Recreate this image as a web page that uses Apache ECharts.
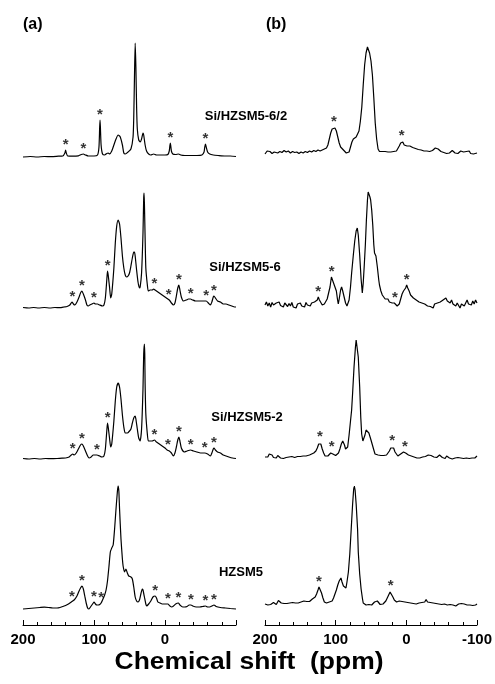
<!DOCTYPE html>
<html>
<head>
<meta charset="utf-8">
<script src="https://cdn.jsdelivr.net/npm/echarts@6/dist/echarts.min.js"></script>
<style>
  html, body { margin: 0; padding: 0; background: #fff; }
  #chart { width: 495px; height: 684px; }
</style>
</head>
<body>
<div id="chart"></div>
<script>
// spectra: [chemical shift (ppm), intensity]
const specA1 = [[200,0],[190,0.5],[180,0],[170,0.5],[160,0.3],[150,0.8],[144,1],[141,4],[140,7],[139,4],[137,1],[130,0.8],[122,1.2],[118,2.5],[115,3],[112,2],[108,1],[100,1],[95,2],[93,10],[92,30],[91.5,37],[91,30],[90,12],[88,3],[85,2],[82,3.5],[80,4],[78,3],[75,6],[72,12],[69,18],[66,22],[63,20],[60,12],[58,4],[56,3],[52,5],[48,8],[45,20],[44,40],[43,80],[42,114],[41,90],[40,50],[39,28],[37,17],[35,15],[33,18],[31,24],[30,22],[28,12],[26,6],[23,3],[20,2],[16,3],[12,2],[8,2],[4,2],[0,2],[-4,2.5],[-6,6],[-7,12],[-7.5,14],[-8,12],[-9,6],[-11,3],[-15,2.5],[-19,3],[-22,2],[-28,1.5],[-35,1.5],[-45,1.5],[-52,2],[-55,5],[-56,10],[-57,13],[-58,10],[-60,5],[-63,3],[-68,2],[-75,1.5],[-85,1],[-92,1],[-100,0.5]];
const specA2 = [[200,0.5],[192,0],[185,0.5],[178,0],[170,0.5],[162,0],[155,0.5],[148,0.3],[142,1],[138,1.5],[134,3],[131,6],[129,4],[127,3],[124,6],[121,11],[119,15],[117,17],[115,14],[112,8],[110,3],[108,2],[106,3],[103,4],[100,5],[98,4],[95,4],[92,3],[88,2],[86,3],[84,10],[82,28],[81,37],[80,33],[78,20],[76.5,10],[75,14],[72,40],[70,65],[68,82],[66,88],[64,84],[62,70],[60,52],[58,40],[56,33],[54,31],[52,32],[50,35],[48,42],[46,50],[44,56],[43,56],[42,52],[40,38],[38,26],[36,20],[35,21],[33,35],[31,75],[30,110],[29.5,115],[29,105],[28,70],[27,40],[25,24],[23.5,17],[21,18],[18,18],[16,19],[14,18],[10,16],[6,14],[2,12],[-2,10],[-6,8],[-9,5],[-12,3],[-14,5],[-16,12],[-18,20],[-19.5,23],[-21,18],[-23,11],[-26,7],[-30,8],[-33,9],[-36,9],[-39,8],[-43,7],[-49,7],[-54,7],[-58,7],[-61,5],[-64,3],[-66,6],[-68,11],[-69,12],[-71,10],[-74,7],[-78,6],[-82,4],[-86,4],[-90,3],[-94,2],[-98,1],[-100,1]];
const specA3 = [[200,0.5],[192,0],[184,0.5],[176,0],[168,0.5],[160,0.3],[152,0.5],[145,0.8],[140,1],[135,2],[132,4],[130,5],[128,4],[125,6],[122,10],[119,14],[117,15],[115,13],[112,8],[109,3],[107,1],[104,2],[101,4],[99,4],[96,4],[92,3],[89,2],[86,3],[84,10],[82,28],[81,36],[80,32],[78,20],[76.5,12],[75,15],[72,38],[70,58],[68,72],[66,76],[64,72],[62,60],[60,44],[58,32],[56,26],[53,26],[50,28],[48,30],[46,36],[44,41],[42,43],[41,40],[39,30],[37,21],[35,18],[33,30],[31,70],[30,105],[29,115],[28.5,105],[28,75],[27,45],[25,26],[23.5,18],[21,18],[18,18],[15,19],[12,17],[8,15],[4,13],[0,11],[-3,9],[-6,8],[-9,6],[-11.7,3],[-14,6],[-16,12],[-18,19],[-19.7,22],[-21,18],[-23,11],[-27,7],[-31,8],[-36,9],[-40,8],[-45,7],[-50,6],[-56,6],[-60,5],[-64,3],[-66,6],[-68,10],[-69,11],[-71,9],[-74,7],[-78,6],[-82,4],[-86,3],[-90,2],[-95,1],[-100,0.5]];
const specA4 = [[200,0],[192,0.5],[184,1],[176,1.5],[170,1.8],[164,1.5],[158,1],[152,1],[148,1.5],[144,2.5],[140,3.5],[136,5],[132,7],[128,9],[124,13],[121,18],[119,21],[117,23],[115,20],[113,13],[111,6],[109,1],[107,0],[105,2],[103,4],[101,6],[100,7],[98,5],[96,4],[94,4],[92,4.5],[90,6],[88,9],[85,14],[83,19],[81,28],[79,42],[77,57],[75,61],[73,64],[71,80],[69,100],[67,118],[66,123],[65,118],[64,100],[62,70],[60,50],[59,43],[57,37],[55,40],[53,36],[51,33],[48,32],[46,30],[44,22],[42,12],[40,8],[38,7],[36,9],[34,15],[32,20],[31,19],[29,12],[27,5],[25.8,3],[23,5],[20,8],[17,12],[14,13],[12,11],[10,7],[7,6],[4,5],[0,5],[-4,5],[-7,3],[-9.4,2],[-12,3],[-15,5],[-18.8,6],[-21,4],[-25,2],[-28,2],[-31,2.5],[-34,4],[-36.6,4],[-39,3],[-44,2],[-49,2],[-53,2.5],[-57,3],[-60,2],[-63,2],[-66,3],[-69,4],[-72,2.5],[-78,1.5],[-85,1],[-92,0.5],[-100,0]];

const specB1 = [[200,-1],[197,2],[195,0],[193,1.5],[190,-0.5],[187,1],[185,2],[182,0],[179,1.5],[176,0.5],[173,2.5],[170,1],[167,2],[164,0],[161,1.5],[158,0.5],[155,1],[152,-0.5],[149,1],[146,0],[143,1.5],[140,0.5],[137,2],[134,1],[131,2.5],[128,1.5],[125,3],[122,2],[119,3],[116,4],[113,5],[111,8],[109,14],[107,20],[105,24],[103,26],[101,25],[99,22],[97,16],[95,10],[93,6],[91,4],[89,3],[87,1.5],[85,0],[83,-1],[81,1],[79,6],[77,11],[75,14],[73,15],[71,16],[69,17],[67,22],[65,32],[63,46],[61,68],[59,88],[57,100],[55,106],[54,105],[52,100],[50,92],[48,78],[46,55],[44,30],[42,14],[40,4],[38,1.5],[36,0],[34,1.5],[32,0.5],[30,1.5],[28,0],[26,1],[24,-0.5],[22,1],[20,0.5],[18,1.5],[16,1],[14,2],[12,4],[10,7],[8,10],[6.5,12],[5,11],[3,8],[1,9],[-1,7],[-3,6.5],[-5,7],[-7,5],[-9,5.5],[-11,4],[-13,4.5],[-15,3],[-17,3.5],[-19,2],[-21,3],[-23,1.5],[-25,2],[-27,1],[-29,2],[-31,0.5],[-33,1.5],[-35,1],[-37,2.5],[-39,3],[-41,5],[-43,6],[-45,4],[-47,3],[-49,1.5],[-51,2],[-53,0.5],[-55,1],[-57,-0.5],[-59,1.5],[-61,0],[-63,1],[-65,2.5],[-67,1],[-69,0],[-71,1.5],[-73,-0.5],[-75,1],[-77,2],[-79,0],[-81,1],[-83,-1],[-85,1.5],[-87,0],[-89,2],[-91,-0.5],[-93,1.5],[-95,-1],[-97,1],[-100,0]];
const specB2 = [[200,0],[198,3],[196,-1],[194,2],[192,-2],[190,2.5],[188,0],[186,-1],[184,2],[182,0.5],[180,3],[178,-0.5],[176,1],[174,-2],[172,2],[170,0],[168,-1.5],[166,1.5],[164,-1],[162,2.5],[160,-2],[158,0],[156,-3],[154,1],[152,-1],[150,2],[148,-1],[146,1],[144,-2],[142,2.5],[140,0],[138,1],[136,-1],[134,2],[132,0],[130,3],[128,2],[126,5],[124.6,8],[123,5],[121,3],[119,0],[117.5,-1],[116,1],[114,3],[112,6],[110,12],[108,18],[106,28],[105,26],[103,22],[101,20],[99,14],[97.5,6],[96.3,1],[95,6],[93,15],[91.6,18],[90,14],[88,8],[86,2],[84,-1],[83,-2],[81,5],[79,18],[77.4,32],[75,50],[73,64],[71,74],[69.4,77],[68,70],[66,50],[64,26],[62.3,12],[61,22],[59.5,40],[58,60],[56.5,85],[55,105],[54,113],[53,112],[51.5,108],[50.5,105],[49,95],[47.5,80],[46,60],[45,52],[44,50],[43,49],[41,38],[39,25],[38,20],[36,14],[34,10],[32,8],[30,6],[28,5],[26,6],[24,3],[22,4],[20,2],[18.5,4],[17,2],[15,1],[13,-1],[11.4,-1.5],[10,1],[8,6],[6,11],[4,14],[2,16],[1,17],[-0.5,20],[-2,17],[-4,14],[-6,10],[-8,8],[-10,7],[-12,6],[-14,5],[-16,6],[-18,3],[-20,4],[-22,2],[-24,3],[-26,1],[-28,2],[-30,-1],[-32,1],[-34,-1.5],[-36,0],[-38,-3],[-40,1],[-42,-1],[-44,2],[-46,0],[-48,3],[-50,2],[-52,5],[-54,3],[-56,7],[-58,4],[-60,6],[-62,2],[-64,5],[-66,1],[-68,3],[-70,-1],[-72,2],[-74,0],[-76,-3],[-78,1],[-80,3],[-82,-1],[-84,2],[-86,5],[-88,1],[-90,3],[-92,0],[-94,4],[-96,1],[-98,5],[-100,2]];
const specB3 = [[200,0],[198,2],[196,0],[194,3],[192,1],[190,2],[188,-0.5],[186,1],[184,-1],[182,1.5],[180,0],[178,-1],[176,0.5],[174,-1.5],[172,0],[170,-0.5],[168,1],[166,0],[164,1.5],[162,0.5],[160,1],[158,-0.5],[156,1.5],[154,0.5],[152,2],[150,0.5],[148,1.5],[146,1],[144,2],[142,1],[140,3],[137,2],[134,3],[131,4],[128,6],[126,9],[124,13],[122.4,15],[121,13],[119,8],[117,4],[115,1],[113,0.5],[111,1],[109,2],[107,4],[105.7,5],[104,3],[102,2],[100,1.5],[98,2],[96,4],[94,8],[92,13],[90,16],[89,17],[87.5,12],[86,8],[84.5,6],[83,10],[81,22],[79,36],[77.4,47],[76,64],[74,90],[72,110],[71,117],[70.3,118],[69.5,115],[68,100],[66,70],[64.5,40],[63.2,23],[61.5,16],[59.9,15],[58.5,22],[57,27],[56.1,28],[55,25],[53,24],[51.4,22],[50,17],[48,12],[46,7],[44.3,3],[42,1],[40,2],[38,0],[36,1.5],[34,0],[32,1.5],[30,0.5],[28,2],[26,3],[24,6],[22,9],[20.5,11],[19.5,11],[18,9],[16,5],[14,3],[12,1],[11.5,1.5],[10,1],[8,3],[6,4],[4,5],[3,5],[1,4],[-1,3.5],[-3,2],[-5,3],[-7,1],[-9,2],[-11,0],[-13,1],[-15,-1],[-17,0.5],[-19,-1],[-21,1],[-23,0],[-25,2],[-27,0.5],[-29,1],[-31,2],[-33,0],[-35,1.5],[-37,2.5],[-39,0],[-41,1],[-43,-0.5],[-45,0.5],[-47,2],[-49,1],[-51,-0.5],[-53,0],[-55,-1.5],[-57,1],[-59,0],[-61,-1],[-63,1],[-65,-2],[-67,0],[-69,-1],[-71,1],[-73,-0.5],[-75,0.5],[-77,-1],[-79,0],[-81,-1.5],[-83,0.5],[-85,-1],[-87,0],[-89,-1.5],[-91,0],[-93,-1],[-95,0.5],[-97,-1],[-100,1]];
const specB4 = [[200,0],[198,1],[196,-1],[194,0.5],[192,-0.5],[190,0],[188,1.5],[186,0.5],[184,-0.5],[182,1.5],[181,3.5],[179,2],[177,1],[175,-0.5],[173,0.5],[171,-1],[169,0.5],[167,0],[165,1],[163,-0.5],[161,1.5],[159,0],[157,1],[155,-0.5],[153,1],[151,0],[149,2],[147,0.5],[145,3],[143,1],[141,2.5],[139,3.5],[137,2.5],[135,4],[133,5],[131,6],[129,7],[127,10],[125,14],[123.6,17],[122,15],[120,11],[118,6],[116,2],[115,0.5],[113,1],[111,0],[109,2],[107,1],[105,3],[103,6],[101,10],[99,14],[97,19],[95,23],[93.5,25],[92.5,26],[91,22],[89,18],[87,16],[85.4,16],[84,22],[82,32],[80,50],[78,75],[76,100],[74.5,115],[73.6,118],[72.5,114],[71,100],[69,75],[68,52],[66,30],[64,15],[62,5],[61,1],[59,0],[57,-1],[55,0.5],[53,-0.5],[51,1],[49,-1],[47,0],[45,2],[43,0.5],[41,3],[39,1],[37,-0.5],[35,1],[33,0],[31,1.5],[29,3],[27,6],[25,9],[23,12],[22,13],[20.5,11],[19,7],[17,4],[15,3],[13.8,2],[12,4],[10,3],[8,2],[6,2.5],[4,1],[2,2],[0,0.5],[-2,1.5],[-4,0],[-6,1],[-8,-0.5],[-10,0.5],[-12,1],[-14,0],[-16,2],[-18,1],[-20,2.5],[-22,1.5],[-24,3],[-26,2],[-28,4.5],[-30,2],[-32,3.5],[-34,1.5],[-36,3],[-38,1],[-40,2.5],[-42,0.5],[-44,2],[-46,0],[-48,1],[-50,-0.5],[-52,1.5],[-54,0],[-56,1],[-58,-1],[-60,0.5],[-62,-0.5],[-64,1],[-66,-1],[-68,0],[-70,-2],[-72,-0.5],[-74,0],[-76,-1.5],[-78,0.5],[-80,-1],[-82,0],[-84,-2],[-86,-1],[-88,-2.5],[-90,-1],[-92,-3],[-94,-1.5],[-96,-2],[-98,-1],[-100,0]];

// spinning sideband positions (ppm), marked with *
const starsA1 = [140, 115, 91.5, -7.5, -57];
const starsA2 = [130.5, 117, 100, 80.7, 15, -5, -19.7, -36, -58, -69];
const starsA3 = [130, 117, 96, 80.7, 15, -4, -19.7, -36, -56, -69];
const starsA4 = [131, 117, 100, 90, 13.8, -4, -18.8, -36.6, -57, -69];
const starsB1 = [102.4, 6.6];
const starsB2 = [124.6, 105.7, 16, -0.5];
const starsB3 = [122.4, 105.7, 20, 2];
const starsB4 = [123.6, 22.3];

const sampleNames = ['Si/HZSM5-6/2', 'Si/HZSM5-6', 'Si/HZSM5-2', 'HZSM5'];

// vertical stacking (layout only)
const offsetsA = [468, 317, 166, 16];
const offsetsB = [472, 320, 168, 21];

function shift(spec, off) {
    return spec.map(p => [p[0], p[1] + off]);
}

function peakNear(spec, ppm) {
    let best = -Infinity;
    spec.forEach(p => {
        if (Math.abs(p[0] - ppm) <= 1.6 && p[1] > best) best = p[1];
    });
    if (best === -Infinity) {
        let d = Infinity;
        spec.forEach(p => {
            if (Math.abs(p[0] - ppm) < d) { d = Math.abs(p[0] - ppm); best = p[1]; }
        });
    }
    return best;
}

function starData(spec, stars, off) {
    return stars.map(s => [s, peakNear(spec, s) + off]);
}

function lineSeries(spec, off, idx) {
    return {
        type: 'line',
        xAxisIndex: idx,
        yAxisIndex: idx,
        data: shift(spec, off),
        showSymbol: false,
        smooth: idx === 0 ? 0.2 : false,
        lineStyle: {color: '#000', width: 1.2},
        silent: true,
        animation: false
    };
}

function starSeries(data, idx) {
    return {
        type: 'scatter',
        xAxisIndex: idx,
        yAxisIndex: idx,
        data: data,
        symbolSize: 1,
        itemStyle: {color: 'rgba(0,0,0,0)'},
        label: {
            show: true,
            formatter: '*',
            position: 'top',
            distance: -3,
            color: '#000',
            fontSize: 15,
            fontWeight: 'bold',
            fontFamily: 'Liberation Sans, Arial, sans-serif'
        },
        silent: true,
        animation: false
    };
}

const specsA = [specA1, specA2, specA3, specA4];
const specsB = [specB1, specB2, specB3, specB4];
const starsA = [starsA1, starsA2, starsA3, starsA4];
const starsB = [starsB1, starsB2, starsB3, starsB4];

const series = [];
specsA.forEach((s, i) => series.push(lineSeries(s, offsetsA[i], 0)));
specsB.forEach((s, i) => series.push(lineSeries(s, offsetsB[i], 1)));
specsA.forEach((s, i) => series.push(starSeries(starData(s, starsA[i], offsetsA[i]), 0)));
specsB.forEach((s, i) => series.push(starSeries(starData(s, starsB[i], offsetsB[i]), 1)));

function xAxis(idx, hideLast) {
    return {
        type: 'value',
        gridIndex: idx,
        inverse: true,
        min: -100,
        max: 200,
        interval: 100,
        axisLine: {show: true, onZero: false, lineStyle: {color: '#000', width: 1}},
        axisTick: {show: true, inside: true, length: 5, lineStyle: {color: '#000'}},
        minorTick: {show: true, splitNumber: 5, length: 3, lineStyle: {color: '#000'}},
        splitLine: {show: false},
        axisLabel: {
            color: '#000',
            fontSize: 15,
            fontWeight: 'bold',
            fontFamily: 'Liberation Sans, Arial, sans-serif',
            margin: 7,
            formatter: v => (hideLast && v === -100) ? '' : String(v)
        }
    };
}

function yAxis(idx) {
    return {
        type: 'value',
        gridIndex: idx,
        min: 0,
        max: 595,
        show: false
    };
}

const labelFont = 'bold 13px "Liberation Sans", Arial, sans-serif';
const graphics = [
    {type: 'text', left: 23, top: 17, style: {text: '(a)', font: 'bold 16px "Liberation Sans", Arial, sans-serif', fill: '#000'}},
    {type: 'text', left: 266, top: 17, style: {text: '(b)', font: 'bold 16px "Liberation Sans", Arial, sans-serif', fill: '#000'}},
    {type: 'text', x: 249, y: 663, scaleX: 1.15, style: {text: 'Chemical shift  (ppm)', font: 'bold 23px "Liberation Sans", Arial, sans-serif', fill: '#000', textAlign: 'center', textVerticalAlign: 'middle'}}
];
const labelY = [116, 267, 417, 572];
const labelX = [246, 245, 247, 241];
sampleNames.forEach((n, i) => {
    graphics.push({type: 'text', x: labelX[i], y: labelY[i], style: {text: n, font: labelFont, fill: '#000', textAlign: 'center', textVerticalAlign: 'middle'}});
});

const chart = echarts.init(document.getElementById('chart'), null, {renderer: 'canvas'});
chart.setOption({
    backgroundColor: '#fff',
    animation: false,
    grid: [
        {left: 23, width: 213, top: 30, bottom: 59},
        {left: 265, width: 212, top: 30, bottom: 59}
    ],
    xAxis: [xAxis(0, true), xAxis(1, false)],
    yAxis: [yAxis(0), yAxis(1)],
    series: series,
    graphic: graphics
});
</script>
</body>
</html>
